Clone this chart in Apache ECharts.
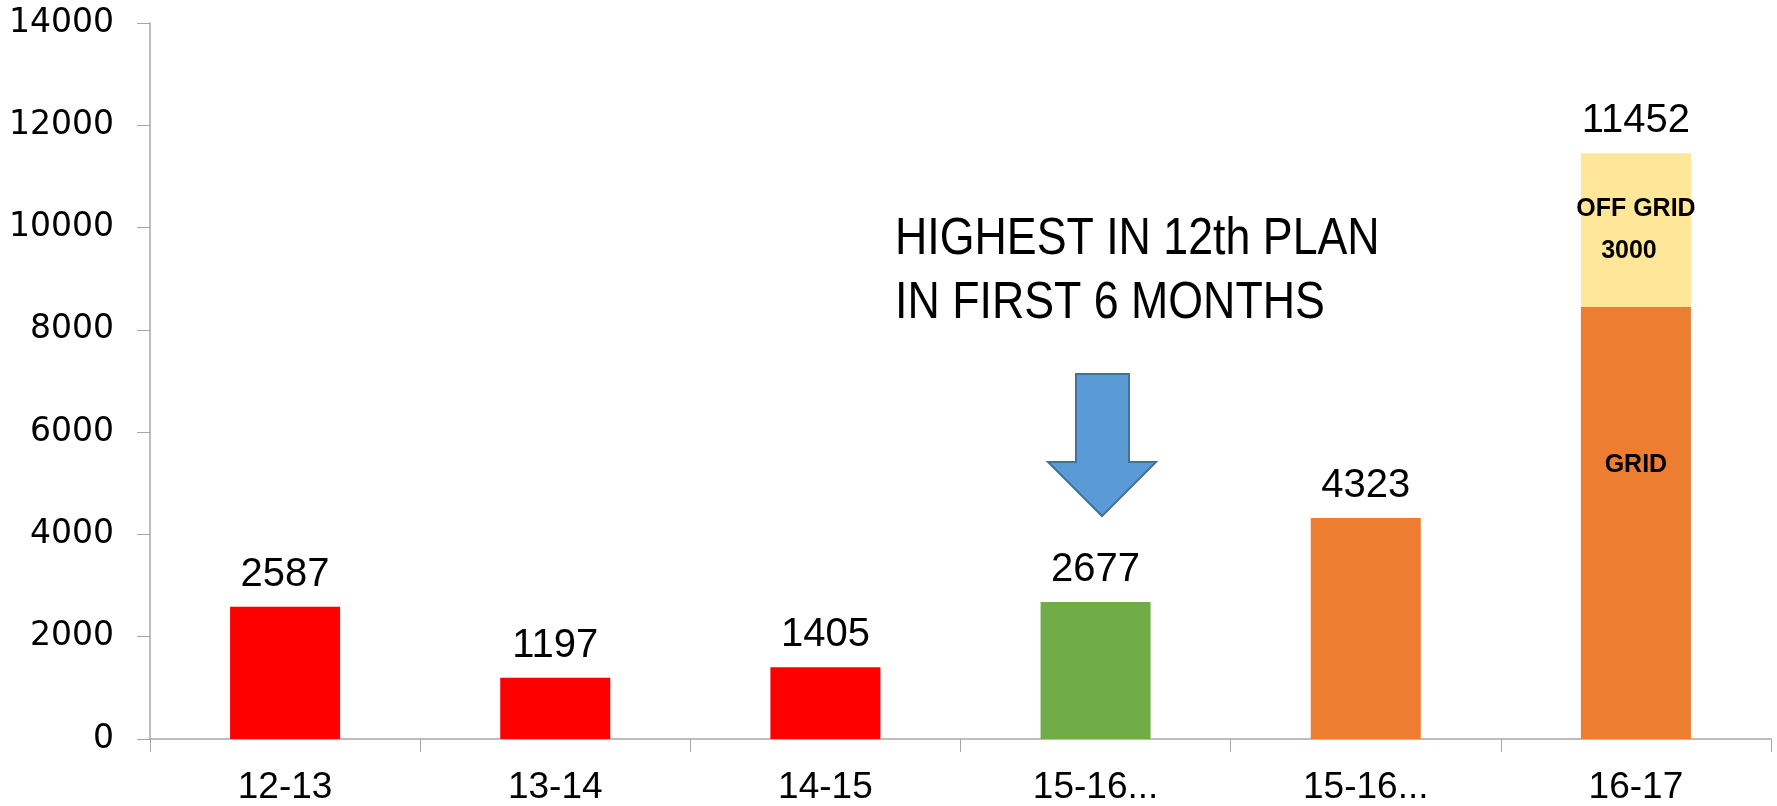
<!DOCTYPE html>
<html>
<head>
<meta charset="utf-8">
<script src="https://cdn.jsdelivr.net/npm/echarts@6/dist/echarts.min.js"></script>
<style>
  html, body { margin: 0; padding: 0; background: #fff; }
  #chart { width: 1777px; height: 806px; }
</style>
</head>
<body>
<div id="chart"></div>
<script>
var years = ['12-13', '13-14', '14-15', '15-16...', '15-16...', '16-17']
var gridVals = [2587, 1197, 1405, 2677, 4323, 8452]
var offGridVals = [null, null, null, null, null, 3000]
var totals = [2587, 1197, 1405, 2677, 4323, 11452]
var barColors = ['#FF0000', '#FF0000', '#FF0000', '#70AD47', '#ED7D31', '#ED7D31']

var labelFont = "'Liberation Sans', Arial, sans-serif"

var chart = echarts.init(document.getElementById('chart'))

var option = {
  animation: false,
  grid: { left: 150, right: 6, top: 23, bottom: 67 },
  xAxis: {
    type: 'category',
    data: years,
    axisLine: { lineStyle: { color: '#A6A6A6', width: 1.5 } },
    axisTick: { show: true, length: 13, lineStyle: { color: '#A6A6A6' } },
    axisLabel: { margin: 30, color: '#000', fontSize: 37, fontFamily: labelFont }
  },
  yAxis: {
    type: 'value',
    min: 0,
    max: 14000,
    interval: 2000,
    splitLine: { show: false },
    axisLine: { show: true, lineStyle: { color: '#A6A6A6', width: 1.5 } },
    axisTick: { show: true, length: 13, lineStyle: { color: '#A6A6A6' } },
    axisLabel: {
      margin: 36,
      color: '#000',
      fontSize: 33,
      fontFamily: "'DejaVu Sans', sans-serif",
      formatter: function (v) { return String(v) }
    }
  },
  series: [
    {
      // 总数,只用来显示顶部数字
      type: 'bar',
      barWidth: 110,
      barGap: '-100%',
      z: 1,
      data: totals,
      itemStyle: { color: 'rgba(0,0,0,0)' },
      label: {
        show: true,
        position: 'top',
        distance: 12,
        color: '#000',
        fontSize: 40,
        fontFamily: labelFont
      }
    },
    {
      type: 'bar',
      stack: 'a',
      barWidth: 110,
      z: 2,
      data: gridVals.map(function (v, i) {
        var item = { value: v, itemStyle: { color: barColors[i] } }
        if (i === 5) {
          item.label = {
            show: true,
            position: 'inside',
            offset: [0, -58],
            formatter: 'GRID',
            color: '#000',
            fontSize: 25,
            fontWeight: 'bold',
            fontFamily: labelFont
          }
        }
        return item
      })
    },
    {
      type: 'bar',
      stack: 'a',
      barWidth: 110,
      z: 2,
      data: offGridVals,
      itemStyle: { color: '#FFE699' },
      label: {
        show: true,
        position: 'inside',
        formatter: function (p) { return 'OFF GRID\n' + p.value + '  ' },
        lineHeight: 42,
        color: '#000',
        fontSize: 25,
        fontWeight: 'bold',
        fontFamily: labelFont
      }
    }
  ],
  graphic: [
    {
      type: 'text',
      left: 895,
      top: 208,
      scaleX: 0.86,
      style: {
        text: 'HIGHEST IN 12th PLAN\nIN FIRST 6 MONTHS',
        fill: '#000',
        fontSize: 52,
        lineHeight: 64,
        fontFamily: labelFont
      }
    },
    {
      type: 'polygon',
      shape: {
        points: [[1076, 374], [1129, 374], [1129, 462], [1156, 462], [1102, 516], [1048, 462], [1076, 462]]
      },
      style: { fill: '#5B9BD5', stroke: '#41719C', lineWidth: 2 }
    }
  ]
}

chart.setOption(option)
</script>
</body>
</html>
